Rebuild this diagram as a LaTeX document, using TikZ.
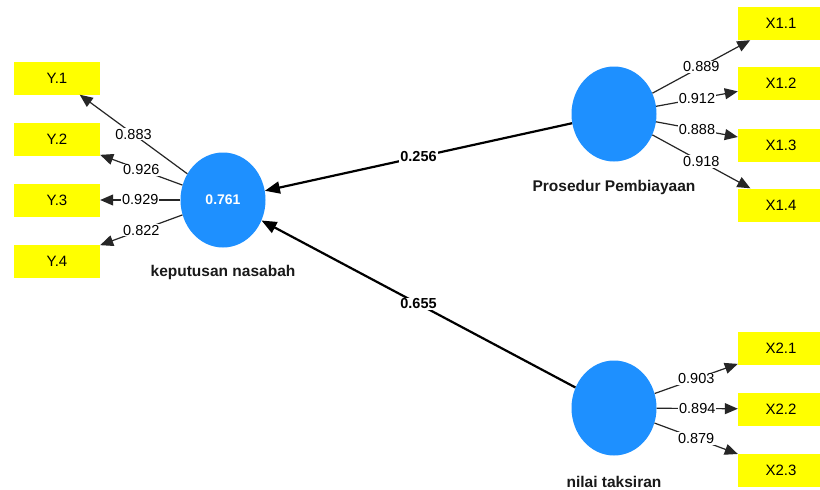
\documentclass[tikz,border=0pt]{standalone}
\usepackage{fontspec}
\setmainfont{Liberation Sans}
\usetikzlibrary{shapes.geometric,arrows.meta}
\definecolor{lvblue}{RGB}{30,144,255}
\definecolor{mvyellow}{RGB}{255,255,0}
\begin{document}
\begin{tikzpicture}[x=1pt,y=-1pt,
 lv/.style={ellipse,fill=lvblue,minimum width=85pt,minimum height=95pt,inner sep=0pt,text=white,font=\fontsize{14}{16}\selectfont\bfseries},
 mv/.style={rectangle,fill=mvyellow,minimum width=86pt,minimum height=33pt,inner sep=0pt,font=\fontsize{15}{17}\selectfont},
 lvname/.style={font=\fontsize{15.5}{18}\selectfont\bfseries,text=black!90},
 load/.style={-{Triangle[length=13pt,width=11pt]},line width=1.2pt,black!85},
 coefarrow/.style={-{Triangle[length=15pt,width=12pt]},line width=2.2pt},
 lbl/.style={fill=white,inner sep=1pt,text=black,font=\fontsize{14.5}{16}\selectfont},
 coef/.style={fill=white,inner sep=1pt,font=\fontsize{14.5}{16}\selectfont\bfseries}
]
\clip (0,0) rectangle (820,490);
\fill[white] (0,0) rectangle (820,490);
% latent variables
\node[lv] (kep) at (223,200) {0.761};
\node[lv] (pros) at (614,114) {};
\node[lv] (nilai) at (614,408) {};
\node[lvname] (kepname) at (223,272) {keputusan nasabah};
\node[lvname] (prosname) at (614,187) {Prosedur Pembiayaan};
\node[lvname] (nilainame) at (614,482) {nilai taksiran};
% indicators
\node[mv] (y1) at (57,78) {Y.1};
\node[mv] (y2) at (57,139) {Y.2};
\node[mv] (y3) at (57,200) {Y.3};
\node[mv] (y4) at (57,261) {Y.4};
\node[mv] (x11) at (781,23.5) {X1.1};
\node[mv] (x12) at (781,83.5) {X1.2};
\node[mv] (x13) at (781,145) {X1.3};
\node[mv] (x14) at (781,205) {X1.4};
\node[mv] (x21) at (781,348.5) {X2.1};
\node[mv] (x22) at (781,409) {X2.2};
\node[mv] (x23) at (781,470) {X2.3};
% loadings
\draw[load] (kep) -- node[lbl]{0.883} (y1);
\draw[load] (kep) -- node[lbl]{0.926} (y2);
\draw[load] (kep) -- node[lbl]{0.929} (y3);
\draw[load] (kep) -- node[lbl]{0.822} (y4);
\draw[load] (pros) -- node[lbl]{0.889} (x11);
\draw[load] (pros) -- node[lbl]{0.912} (x12);
\draw[load] (pros) -- node[lbl]{0.888} (x13);
\draw[load] (pros) -- node[lbl]{0.918} (x14);
\draw[load] (nilai) -- node[lbl]{0.903} (x21);
\draw[load] (nilai) -- node[lbl]{0.894} (x22);
\draw[load] (nilai) -- node[lbl]{0.879} (x23);
% path coefficients
\draw[coefarrow] (pros) -- node[coef]{0.256} (kep);
\draw[coefarrow] (nilai) -- node[coef]{0.655} (kep);
\end{tikzpicture}
\end{document}
